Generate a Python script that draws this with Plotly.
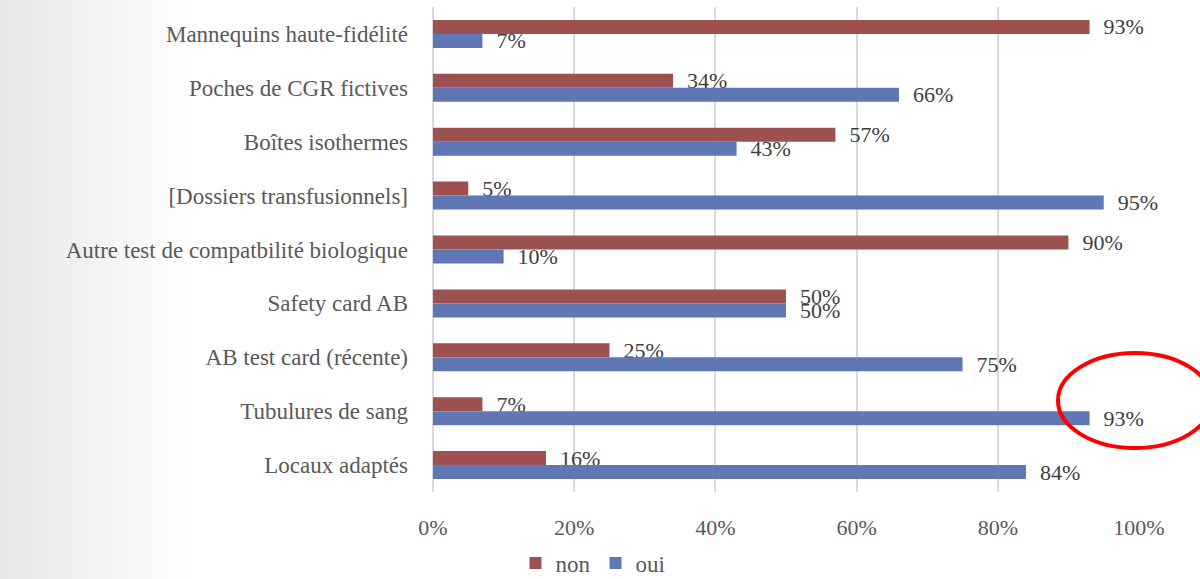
import plotly.graph_objects as go

categories = [
    "Mannequins haute-fidélité",
    "Poches de CGR fictives",
    "Boîtes isothermes",
    "[Dossiers transfusionnels]",
    "Autre test de compatbilité biologique",
    "Safety card AB",
    "AB test card (récente)",
    "Tubulures de sang",
    "Locaux adaptés",
]
non_values = [93, 34, 57, 5, 90, 50, 25, 7, 16]
oui_values = [7, 66, 43, 95, 10, 50, 75, 93, 84]
x_ticks = [0, 20, 40, 60, 80, 100]

FONT = "Palatino Linotype, Book Antiqua, Liberation Serif, serif"
RED = "#9E5151"
BLUE = "#6077B6"
FS = 23

W, H = 1200, 579
ML, MR, MT, MB = 433, 61, 7, 87
PW = W - ML - MR
PH = H - MT - MB


def px_x(p):
    return (p - ML) / PW


def px_y(p):
    return (H - MB - p) / PH


fig = go.Figure()
for name, vals, col in [("non", non_values, RED), ("oui", oui_values, BLUE)]:
    fig.add_trace(go.Bar(
        name=name, y=categories, x=vals, orientation="h",
        marker=dict(color=col, line=dict(width=0)),
        text=[f"\u00a0\u00a0{v}%" for v in vals],
        textposition="outside", cliponaxis=False, constraintext="none",
        textfont=dict(family=FONT, size=FS - 1, color="#404040"),
    ))

shapes = []
# subtle background shading on the left edge
n = 24
for i in range(n):
    shapes.append(dict(
        type="rect", xref="paper", yref="paper",
        x0=px_x(0), x1=px_x(8 * (i + 1)), y0=px_y(H), y1=px_y(0),
        fillcolor="rgba(0,0,0,0.002)", line=dict(width=0), layer="below",
    ))
# red ellipse highlight
shapes.append(dict(
    type="circle", xref="paper", yref="paper",
    x0=px_x(1058), x1=px_x(1212), y0=px_y(448), y1=px_y(353),
    line=dict(color="#FF0000", width=4), fillcolor="rgba(0,0,0,0)",
))

fig.update_layout(
    width=W, height=H,
    margin=dict(l=ML, r=MR, t=MT, b=MB, autoexpand=False),
    paper_bgcolor="white", plot_bgcolor="white",
    barmode="group", bargap=0.48, bargroupgap=0,
    font=dict(family=FONT, size=FS, color="#595959"),
    showlegend=True,
    legend=dict(
        orientation="h", x=px_x(593), xanchor="center",
        y=px_y(563), yanchor="middle",
        font=dict(family=FONT, size=FS, color="#595959"),
        itemwidth=30, tracegroupgap=0,
    ),
    shapes=shapes,
    xaxis=dict(
        range=[0, 100], tickvals=x_ticks, ticktext=[f"{v}%" for v in x_ticks],
        showgrid=True, gridcolor="#D9D9D9", gridwidth=1.5,
        zeroline=True, zerolinecolor="#D9D9D9", zerolinewidth=1.5,
        ticks="", ticklabelstandoff=20, fixedrange=True, automargin=False,
        tickfont=dict(family=FONT, size=FS - 1, color="#595959"),
    ),
    yaxis=dict(
        categoryorder="array", categoryarray=categories, autorange="reversed",
        showgrid=False, ticks="", ticklabelstandoff=24, automargin=False,
        fixedrange=True,
        tickfont=dict(family=FONT, size=FS, color="#595959"),
    ),
)

fig.write_html(
    "out.html",
    config={"displayModeBar": False},
    post_script="document.body.style.margin='0';document.body.style.overflow='hidden';",
)
